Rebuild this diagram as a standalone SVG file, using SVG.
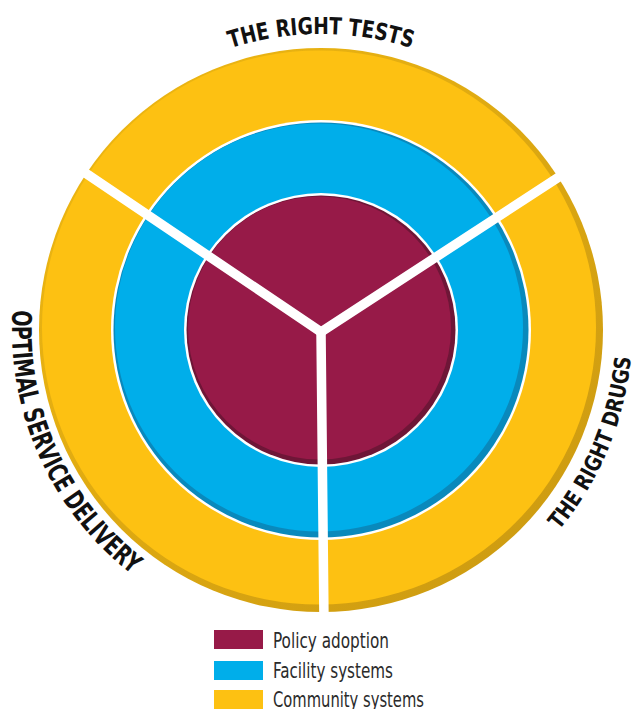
<svg xmlns="http://www.w3.org/2000/svg" xmlns:xlink="http://www.w3.org/1999/xlink" width="633" height="709" viewBox="0 0 633 709">
  <style>
    .ttl { font-family: 'Liberation Sans Narrow', 'DejaVu Sans Condensed', 'Liberation Sans', sans-serif; font-weight: bold; fill: #111111; }
    .leg { font-family: 'Liberation Sans Narrow', 'DejaVu Sans Condensed', 'Liberation Sans', sans-serif; font-size: 22px; fill: #2b2b2b; }
  </style>
  <defs>
    <linearGradient id="yRim" x1="0" y1="0" x2="1" y2="1">
      <stop offset="0" stop-color="#F1B912"/>
      <stop offset="1" stop-color="#C99811"/>
    </linearGradient>
    <path id="arcTop" d="M 25,330 A 296,296 0 0 1 617,330"/>
    <path id="arcLeft" d="M 321,21 A 309,309 0 0 0 321,639"/>
    <path id="arcRight" d="M 321,641 A 311,311 0 0 0 321,19"/>
  </defs>
  <rect width="633" height="709" fill="#ffffff"/>

  <g id="community-systems">
    <circle cx="321" cy="330" r="282" fill="url(#yRim)"/>
    <circle cx="319" cy="327.5" r="277" fill="#FDC112"/>
  </g>
  <g id="facility-systems">
    <circle cx="321" cy="330" r="210" fill="#ffffff"/>
    <circle cx="321" cy="330" r="207.5" fill="#0989BC"/>
    <circle cx="319" cy="327.5" r="204" fill="#00AEEA"/>
  </g>
  <g id="policy-adoption">
    <circle cx="321" cy="330" r="137" fill="#ffffff"/>
    <circle cx="321" cy="330" r="134.5" fill="#6E1637"/>
    <circle cx="319.5" cy="328" r="131.5" fill="#971A48"/>
  </g>

  <g id="connectors" stroke="#ffffff" stroke-width="9.5" stroke-linecap="round" fill="none">
    <line x1="78" y1="168" x2="321" y2="332"/>
    <line x1="321" y1="332" x2="565" y2="173"/>
    <line x1="321" y1="332" x2="324" y2="622"/>
  </g>

  <g id="label-tests">
    <text class="ttl" font-size="23.5"><textPath xlink:href="#arcTop" href="#arcTop" startOffset="50%" text-anchor="middle" textLength="184" lengthAdjust="spacingAndGlyphs">THE RIGHT TESTS</textPath></text>
  </g>
  <g id="label-delivery">
    <text class="ttl" font-size="27"><textPath xlink:href="#arcLeft" href="#arcLeft" startOffset="616" text-anchor="middle" textLength="302" lengthAdjust="spacingAndGlyphs">OPTIMAL SERVICE DELIVERY</textPath></text>
  </g>
  <g id="label-drugs">
    <text class="ttl" font-size="22.5"><textPath xlink:href="#arcRight" href="#arcRight" startOffset="366" text-anchor="middle" textLength="190" lengthAdjust="spacingAndGlyphs">THE RIGHT DRUGS</textPath></text>
  </g>

  <g id="legend">
    <rect x="214" y="630" width="49" height="19" fill="#971A48"/>
    <text class="leg" x="273" y="648" textLength="116" lengthAdjust="spacingAndGlyphs">Policy adoption</text>
    <rect x="214" y="661" width="49" height="19" fill="#00AEEA"/>
    <text class="leg" x="273" y="678" textLength="120" lengthAdjust="spacingAndGlyphs">Facility systems</text>
    <rect x="214" y="690" width="49" height="19" fill="#FDC112"/>
    <text class="leg" x="273" y="707" textLength="151" lengthAdjust="spacingAndGlyphs">Community systems</text>
  </g>
</svg>
